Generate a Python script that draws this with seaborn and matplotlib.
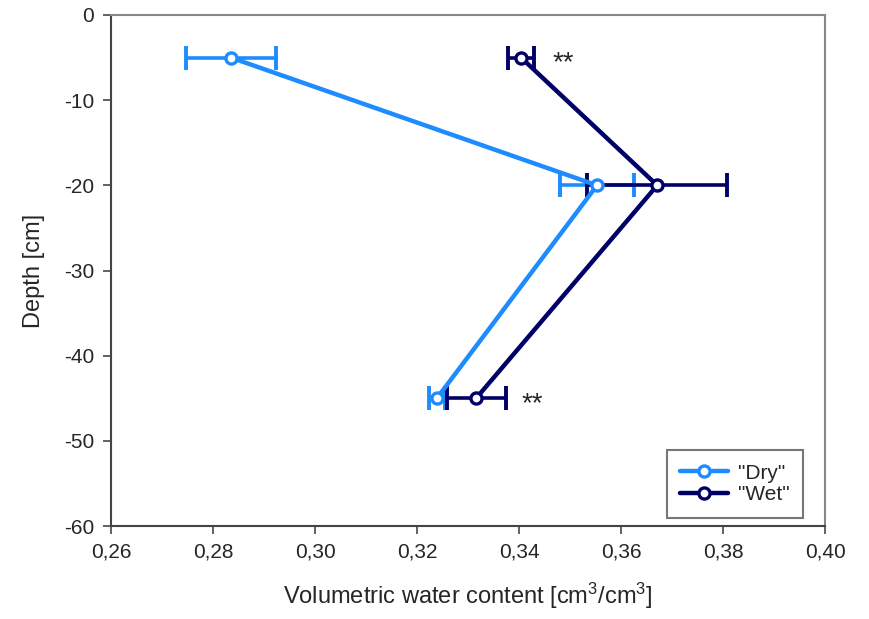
import numpy as np
import pandas as pd
import seaborn as sns
import matplotlib.pyplot as plt

depth = [-5, -20, -45]
dry_vwc = [0.2835, 0.3553, 0.3239]
dry_err = [0.0088, 0.0072, 0.0015]
wet_vwc = [0.3404, 0.3671, 0.3316]
wet_err = [0.0025, 0.0137, 0.0058]
labels = ['"Dry"', '"Wet"']
colors = ['#1E8CFF', '#000066']

sns.set_style('white')
plt.rcParams['font.family'] = ['Liberation Sans', 'DejaVu Sans']
plt.rcParams['mathtext.default'] = 'regular'
plt.rcParams['axes.unicode_minus'] = False

df = pd.DataFrame({
    'vwc': dry_vwc + wet_vwc,
    'depth': depth * 2,
    'treatment': [labels[0]] * 3 + [labels[1]] * 3,
})

fig = plt.figure(figsize=(8.69, 6.19), dpi=100)
ax = fig.add_axes([111 / 869, 1 - 526 / 619, 714 / 869, 511 / 619])

for vals, errs, col in zip([dry_vwc, wet_vwc], [dry_err, wet_err], colors):
    ax.errorbar(vals, depth, xerr=errs, fmt='none', ecolor=col,
                elinewidth=2.6, capsize=8.5, capthick=2.8, zorder=2)

n_before = len(ax.lines)
sns.lineplot(data=df, x='vwc', y='depth', hue='treatment', palette=colors,
             sort=False, linewidth=3.2, ax=ax, zorder=3)


def open_circle(ln):
    c = ln.get_color()
    ln.set_marker('o')
    ln.set_markersize(8)
    ln.set_markeredgewidth(2.4)
    ln.set_markeredgecolor(c)
    ln.set_markerfacecolor('white')


# open circle markers only on the seaborn lines
for ln in ax.lines[n_before:]:
    open_circle(ln)

ax.text(0.3465, -5.7, '**', fontsize=20, va='center', ha='left')
ax.text(0.3405, -45.7, '**', fontsize=20, va='center', ha='left')

ax.set_xlim(0.26, 0.40)
ax.set_ylim(-60, 0)
ax.set_xticks(np.arange(0.26, 0.401, 0.02))
ax.set_xticklabels([f'{v:.2f}'.replace('.', ',') for v in np.arange(0.26, 0.401, 0.02)])
ax.set_yticks(range(-60, 1, 10))
ax.tick_params(direction='out', length=6, width=1.3, color='#555555',
               labelsize=15, pad=6, left=True, bottom=True)
for s in ax.spines.values():
    s.set_color('#888888')
    s.set_linewidth(1.5)
ax.spines['left'].set_color('#444444')
ax.spines['bottom'].set_color('#444444')

ax.set_xlabel('Volumetric water content [cm$^3$/cm$^3$]', fontsize=17, labelpad=14)
ax.set_ylabel('Depth [cm]', fontsize=17, labelpad=14)

leg = ax.legend(loc='lower right', bbox_to_anchor=(0.969, 0.016), borderaxespad=0,
                fontsize=15, frameon=True, fancybox=False, handlelength=2.3,
                handletextpad=0.45, labelspacing=0.12, borderpad=0.65)
for h in leg.legend_handles:
    open_circle(h)
leg.get_frame().set_edgecolor('#555555')
leg.get_frame().set_linewidth(1.5)

fig.savefig('out.png', dpi=100)
